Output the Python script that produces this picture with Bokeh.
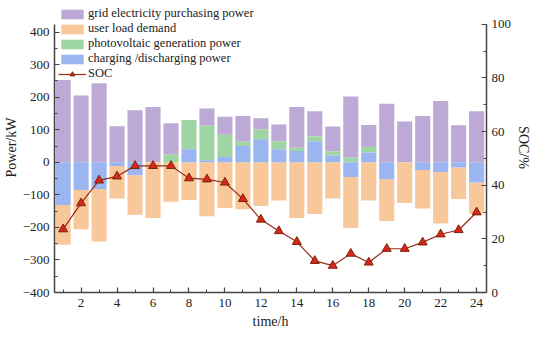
import numpy as np
from bokeh.plotting import figure
from bokeh.models import (Range1d, LinearAxis, SingleIntervalTicker, Legend, LegendItem,
                          ColumnDataSource)
from bokeh.embed import file_html
from bokeh.resources import INLINE

hours = list(range(1, 25))
grid_power = [253, 205, 243, 111, 160, 170, 95, 0, 53, 55, 79, 34, 51, 125, 77, 76, 188, 68, 180, 125, 142, 188, 114, 157]
pv_power = [0, 0, 0, 0, 0, 0, 25, 90, 106, 69, 13, 30, 25, 10, 15, 13, 14, 17, 0, 0, 0, 0, 0, 0]
battery_power = [-131, -85, -82, -11, -40, 0, 0, 40, 6, 16, 50, 71, 40, 35, 65, 21, -45, 30, -52, 0, -24, -30, -16, -62]
load_demand = [122, 121, 161, 100, 121, 171, 121, 116, 166, 140, 144, 134, 117, 171, 159, 111, 157, 117, 128, 125, 118, 158, 97, 96]
soc = [23.6, 33.3, 41.8, 43.3, 47.2, 47.2, 47.2, 42.6, 42.2, 41.0, 34.9, 27.2, 22.9, 18.9, 11.8, 10.0,
       14.5, 11.2, 16.3, 16.3, 18.7, 21.7, 23.3, 29.9]
power_ticks = [-400, -300, -200, -100, 0, 100, 200, 300, 400]
soc_ticks = [0, 20, 40, 60, 80, 100]

C_GRID = "#BCA9D5"
C_LOAD = "#F8C79A"
C_PV = "#9FD5A3"
C_BAT = "#9BB5F1"
FONT = "Liberation Serif"

g = np.array(grid_power, float)
pv = np.array(pv_power, float)
b = np.array(battery_power, float)
ld = np.array(load_demand, float)
bpos = np.clip(b, 0, None)
bneg = np.clip(b, None, 0)

src = ColumnDataSource(dict(
    x=hours,
    bat_top=bpos, bat_bot=bneg,
    pv_bot=bpos, pv_top=bpos + pv,
    grid_bot=bpos + pv, grid_top=bpos + pv + g,
    load_top=bneg, load_bot=bneg - ld,
    soc=soc,
))

# axes end at 424 kW / 100 %, frame extends a bit higher to hold the legend
P_MIN, P_MAX, P_TOP = -400, 424, 491
S_MIN, S_MAX, S_TOP = 0, 100, 108.1

p = figure(width=534, height=331, output_backend="svg", toolbar_location=None,
           x_range=Range1d(0.52, 24.55), y_range=Range1d(P_MIN, P_TOP),
           min_border_left=0, min_border_right=0, min_border_top=2, min_border_bottom=38)
p.extra_y_ranges = {"soc": Range1d(S_MIN, S_TOP)}
p.outline_line_color = None
p.xgrid.visible = False
p.ygrid.visible = False
p.background_fill_color = "white"

W = 0.84
r_grid = p.vbar(x="x", width=W, bottom="grid_bot", top="grid_top", source=src,
                fill_color=C_GRID, line_color=None)
r_load = p.vbar(x="x", width=W, bottom="load_bot", top="load_top", source=src,
                fill_color=C_LOAD, line_color=None)
r_pv = p.vbar(x="x", width=W, bottom="pv_bot", top="pv_top", source=src,
              fill_color=C_PV, line_color=None)
r_bat = p.vbar(x="x", width=W, bottom="bat_bot", top="bat_top", source=src,
               fill_color=C_BAT, line_color=None)
r_line = p.line(x="x", y="soc", source=src, y_range_name="soc", line_color="#9A2A16", line_width=1.2)
r_mark = p.scatter(x="x", y="soc", source=src, y_range_name="soc", marker="triangle", size=9,
                   fill_color="#D8261C", line_color="#7A2608", line_width=1)

def style_axis(ax):
    ax.axis_line_color = "#444444"
    ax.axis_line_width = 1.5
    ax.major_tick_line_color = "#444444"
    ax.minor_tick_line_color = "#444444"
    ax.major_tick_line_width = 1.2
    ax.minor_tick_line_width = 1.0
    ax.major_tick_in = 5
    ax.major_tick_out = 0
    ax.minor_tick_in = 3
    ax.minor_tick_out = 0
    ax.major_label_text_font = FONT
    ax.major_label_text_font_size = "13px"
    ax.major_label_text_color = "#222222"
    ax.axis_label_text_font = FONT
    ax.axis_label_text_font_size = "14px"
    ax.axis_label_text_font_style = "normal"
    ax.axis_label_text_color = "#222222"

xa = p.xaxis[0]
xa.ticker = SingleIntervalTicker(interval=2, num_minor_ticks=2)
xa.axis_label = "time/h"
style_axis(xa)
xa.major_label_standoff = 6
xa.axis_label_standoff = 4

ya = p.yaxis[0]
ya.ticker = SingleIntervalTicker(interval=100, num_minor_ticks=2)
ya.bounds = (P_MIN, P_MAX)
ya.axis_label = "Power/kW"
style_axis(ya)
ya.major_label_standoff = 5
ya.axis_label_standoff = 1
ya.major_label_overrides = {v: ("\u2212" + str(-v)) if v < 0 else str(v) for v in power_ticks}

ra = LinearAxis(y_range_name="soc", axis_label="SOC/%",
                ticker=SingleIntervalTicker(interval=20, num_minor_ticks=2))
ra.bounds = (S_MIN, S_MAX)
style_axis(ra)
ra.major_label_standoff = 5
ra.axis_label_standoff = 2
p.add_layout(ra, "right")

legend = Legend(items=[
    LegendItem(label="grid electricity purchasing power", renderers=[r_grid]),
    LegendItem(label="user load demand", renderers=[r_load]),
    LegendItem(label="photovoltaic generation power", renderers=[r_pv]),
    LegendItem(label="charging /discharging power", renderers=[r_bat]),
    LegendItem(label="SOC", renderers=[r_line, r_mark]),
], location="top_left")
legend.border_line_color = None
legend.background_fill_alpha = 0
legend.label_text_font = FONT
legend.label_text_font_size = "12.5px"
legend.label_text_color = "#222222"
legend.glyph_width = 28
legend.glyph_height = 12
legend.label_height = 12
legend.spacing = 0
legend.padding = 0
legend.margin = 4
legend.label_standoff = 2
p.add_layout(legend, "center")

open("out.html", "w").write(file_html(p, INLINE))
